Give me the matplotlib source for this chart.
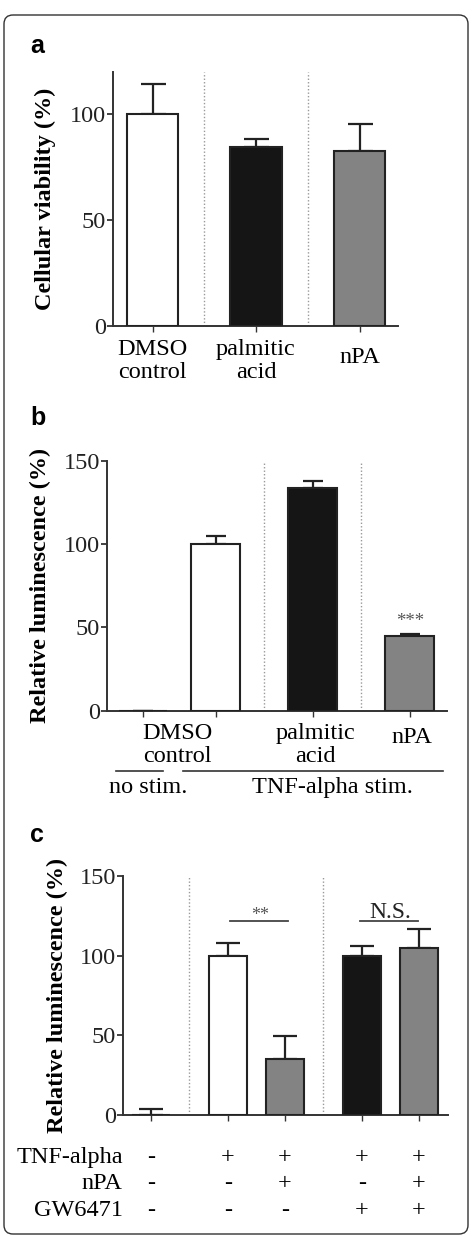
import matplotlib
matplotlib.use("Agg")
import matplotlib.pyplot as plt
from matplotlib.patches import FancyBboxPatch

# ---------------- data ----------------
a_labels = ["DMSO\ncontrol", "palmitic\nacid", "nPA"]
a_values = [100.0, 84.6, 82.7]
a_errors = [14.5, 3.6, 12.9]

b_values = [0.0, 100.0, 133.6, 44.9]
b_errors = [0.0, 5.1, 4.4, 1.0]
b_labels = ["DMSO\ncontrol", "palmitic\nacid", "nPA"]
b_groups = ["no stim.", "TNF-alpha stim."]

c_values = [0.0, 100.0, 35.0, 100.0, 104.6]
c_errors = [4.0, 7.9, 14.8, 6.1, 12.0]
c_rows = ["TNF-alpha", "nPA", "GW6471"]
c_table = [["-", "+", "+", "+", "+"],
           ["-", "-", "+", "-", "+"],
           ["-", "-", "-", "+", "+"]]

WHITE, BLACK, GREY = "white", "#151515", "#838383"
EDGE = "#222222"
SERIF = ["Liberation Serif", "DejaVu Serif"]
FS = 17.5

plt.rcParams["font.family"] = SERIF
plt.rcParams["axes.linewidth"] = 1.4

W, H = 473, 1236
fig = plt.figure(figsize=(W / 100, H / 100), dpi=100)


def axes_px(left, right, top, bottom):
    return fig.add_axes([left / W, 1 - bottom / H, (right - left) / W, (bottom - top) / H])


def style(ax, yticks, ylabel, labelpad):
    for s in ["top", "right"]:
        ax.spines[s].set_visible(False)
    for s in ["left", "bottom"]:
        ax.spines[s].set_color("#333333")
    ax.set_yticks(yticks)
    ax.tick_params(axis="y", labelsize=FS, length=4, width=1.2, pad=1, colors="#222222")
    ax.tick_params(axis="x", length=4, width=1.0, direction="out", colors="#333333")
    ax.set_xticklabels([])
    ax.set_ylabel(ylabel, fontsize=FS, fontweight="bold", labelpad=labelpad)


def bars(ax, pos, vals, errs, colors, width, capsize):
    ax.bar(pos, vals, width=width, color=colors, edgecolor=EDGE, linewidth=1.5, zorder=3)
    ax.errorbar(pos, vals, yerr=[[0] * len(errs), errs], fmt="none", ecolor=EDGE,
                elinewidth=1.6, capsize=capsize, capthick=1.6, zorder=2)


def vline(ax, x):
    ax.axvline(x, color="#999999", linestyle=(0, (1, 1.5)), linewidth=1.0, zorder=1)


# ---------------- panel a ----------------
ax = axes_px(113, 398, 72, 326)
pos_a = [0, 1, 2]
bars(ax, pos_a, a_values, a_errors, [WHITE, BLACK, GREY], 0.5, 9)
ax.set_xlim(-0.382, 2.372)
ax.set_ylim(0, 120)
vline(ax, 0.5)
vline(ax, 1.5)
style(ax, [0, 50, 100], "Cellular viability (%)", 10)
ax.set_xticks(pos_a)
tr = ax.get_xaxis_transform()
ax.text(0, -0.2047, a_labels[0], transform=tr, ha="center", va="baseline", fontsize=FS, linespacing=1.1)
ax.text(1, -0.2047, a_labels[1], transform=tr, ha="center", va="baseline", fontsize=FS, linespacing=1.1)
ax.text(2, -0.1469, a_labels[2], transform=tr, ha="center", va="baseline", fontsize=FS)
fig.text(30 / W, 1 - 53 / H, "a", fontsize=18, fontweight="bold", family=["Liberation Sans", "DejaVu Sans"])

# ---------------- panel b ----------------
ax = axes_px(107, 447, 461, 710.7)
pos_b = [0, 0.75, 1.75, 2.75]
bars(ax, pos_b, b_values, b_errors, [WHITE, WHITE, BLACK, GREY], 0.5, 7.2)
ax.set_xlim(-0.371, 3.134)
ax.set_ylim(0, 150)
vline(ax, 1.25)
vline(ax, 2.25)
style(ax, [0, 50, 100, 150], "Relative luminescence (%)", 9)
ax.set_xticks(pos_b)
tr = ax.get_xaxis_transform()
ax.text(0.35, -0.2042, b_labels[0], transform=tr, ha="center", va="baseline", fontsize=FS, linespacing=1.1)
ax.text(1.78, -0.2042, b_labels[1], transform=tr, ha="center", va="baseline", fontsize=FS, linespacing=1.1)
ax.text(2.77, -0.1306, b_labels[2], transform=tr, ha="center", va="baseline", fontsize=FS)
ax.text(2.75, 51, "***", ha="center", va="baseline", fontsize=13.5, color="#555555")
ax.plot([-0.278, 0.206], [-0.240, -0.240], transform=tr, color="#333333", lw=1.2, clip_on=False)
ax.plot([0.412, 3.093], [-0.240, -0.240], transform=tr, color="#333333", lw=1.2, clip_on=False)
ax.text(0.05, -0.3296, b_groups[0], transform=tr, ha="center", va="baseline", fontsize=FS)
ax.text(1.95, -0.3296, b_groups[1], transform=tr, ha="center", va="baseline", fontsize=FS)
fig.text(30 / W, 1 - 425 / H, "b", fontsize=18, fontweight="bold", family=["Liberation Sans", "DejaVu Sans"])

# ---------------- panel c ----------------
ax = axes_px(122.7, 448, 876, 1115)
pos_c = [0, 1.35, 2.35, 3.7, 4.7]
bars(ax, pos_c, c_values, c_errors, [WHITE, WHITE, GREY, BLACK, GREY], 0.67, 8.4)
ax.set_xlim(-0.496, 5.21)
ax.set_ylim(0, 150)
vline(ax, 0.667)
vline(ax, 3.02)
style(ax, [0, 50, 100, 150], "Relative luminescence (%)", 8)
ax.set_xticks(pos_c)
ax.plot([1.39, 2.41], [122, 122], color="#444444", lw=1.3)
ax.text(1.92, 122.5, "**", ha="center", va="baseline", fontsize=13, color="#555555")
ax.plot([3.67, 4.69], [122, 122], color="#444444", lw=1.3)
ax.text(4.2, 123.5, "N.S.", ha="center", va="baseline", fontsize=17, color="#222222")
tr = ax.get_xaxis_transform()
row_y = [-0.2008, -0.3096, -0.4226]
for lab, yy, row in zip(c_rows, row_y, c_table):
    ax.text(0, yy, lab, transform=ax.transAxes, ha="right", va="baseline", fontsize=FS)
    for x, sym in zip(pos_c, row):
        ax.text(x, yy, sym, transform=tr, ha="center", va="baseline", fontsize=FS)
fig.text(30 / W, 1 - 842 / H, "c", fontsize=18, fontweight="bold", family=["Liberation Sans", "DejaVu Sans"])

# ---------------- frame ----------------
frame = FancyBboxPatch((4, 2), 464, 1219, boxstyle="round,pad=0,rounding_size=9",
                       transform=None, facecolor="none", edgecolor="#333333", linewidth=1.0)
fig.add_artist(frame)

fig.savefig("out.png", dpi=100)
